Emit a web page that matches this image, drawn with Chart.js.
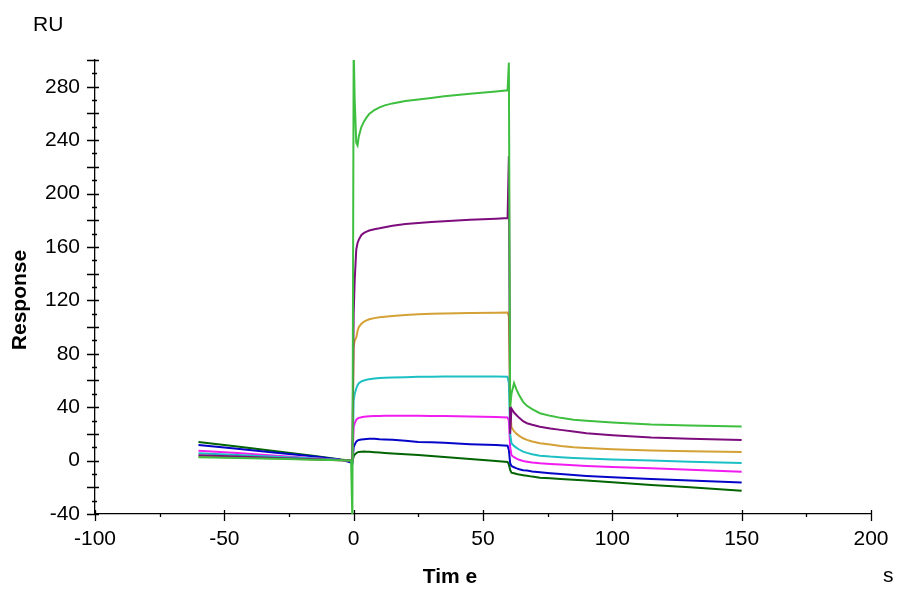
<!DOCTYPE html>
<html>
<head>
<meta charset="utf-8">
<script src="https://cdn.jsdelivr.net/npm/chart.js@4/dist/chart.umd.min.js"></script>
<style>
  html, body { margin: 0; padding: 0; background: #fff; }
  #wrap { width: 900px; height: 600px; }
</style>
</head>
<body>
<div id="wrap"><canvas id="myChart" width="900" height="600"></canvas></div>
<script>
// time points (s), shared by every curve
const times = [
  -60, -45, -30, -15, -5, -1, -0.5,
  0, 0.4, 1, 1.5, 2, 3, 4, 5, 6, 8, 10, 12, 15, 20, 25, 30, 35, 45, 55, 59.5,
  60, 60.5, 61, 62, 63, 64, 65.5, 67, 69, 72, 76, 80, 85, 90, 100, 115, 130, 150
];

// response (RU), one array per concentration
const lightGreen = [
  2.5, 1.9, 1.3, 0.6, 0.2, 0, -45,
  310, 270, 238, 236, 243, 250, 254, 257, 259.5, 262.5, 264.5, 266, 267.5, 269.3, 270.5, 271.6, 272.8, 274.8, 276.5, 277.3,
  298, 40, 50, 58, 53, 49, 44, 41, 38.5, 35.5, 33.5, 32, 30.5, 29.8, 28.5, 27, 26.3, 25.5
];
const purple = [
  4, 3, 2, 1, 0.3, 0, 0,
  110, 135, 158, 163, 165.5, 169, 170.5, 171.5, 172.3, 173.3, 174, 174.8, 175.8, 177.2, 178, 178.7, 179.3, 180.3, 181.2, 181.6,
  228, 20, 39, 36, 34, 32, 29.5, 28, 26.8, 25.4, 24, 23, 21.7, 20.5, 19, 17.3, 16.3, 15.5
];
const orange = [
  3, 2.3, 1.5, 0.8, 0.2, 0, 0,
  85, 90, 92, 97, 100, 102.5, 104, 105, 105.8, 106.7, 107.3, 107.8, 108.3, 109, 109.5, 109.9, 110.2, 110.5, 110.8, 110.9,
  108, 40, 25, 22, 20, 18.5, 16.7, 15.5, 14.3, 13, 12, 11, 10, 9.5, 8.5, 7.5, 7, 6.5
];
const cyan = [
  5.5, 4.2, 2.9, 1.5, 0.4, 0, -0.5,
  45, 50, 54, 56.5, 58, 59.3, 60, 60.6, 61, 61.5, 61.9, 62.1, 62.3, 62.5, 62.7, 62.8, 62.9, 63, 63, 62.8,
  58, 20, 13, 11, 9.5, 8.3, 6.7, 5.8, 4.8, 3.7, 3, 2.5, 2, 1.5, 0.8, 0, -0.8, -1.8
];
const magenta = [
  7.4, 5.6, 3.7, 1.8, 0.5, 0, -0.5,
  25, 28, 30.5, 31.5, 32, 32.5, 32.8, 33, 33.2, 33.3, 33.4, 33.5, 33.5, 33.5, 33.5, 33.4, 33.3, 33, 32.6, 32.3,
  30, 10, 4, 2.5, 1.5, 0.6, -0.3, -0.8, -1.4, -2, -2.5, -3, -3.5, -4, -4.8, -5.7, -6.8, -8.3
];
const blue = [
  11.7, 8.8, 5.9, 3, 0.7, -1.5, -2,
  10, 12, 14.2, 15, 15.5, 15.8, 16, 16.2, 16.3, 16.3, 16, 15.8, 15.6, 14.8, 14, 13.7, 13.3, 12.3, 11.6, 11.1,
  8, -2, -4, -5, -5.8, -6.5, -7.2, -7.5, -8.1, -8.7, -9.4, -10, -10.8, -11.5, -12.5, -13.8, -15, -16.5
];
const darkGreen = [
  14, 10.5, 7, 3.5, 0.8, 0, -1,
  3, 4.5, 5.5, 6.2, 6.5, 6.7, 6.8, 6.7, 6.6, 6.3, 6, 5.7, 5.3, 4.8, 4.2, 3.4, 2.7, 1.2, -0.3, -1,
  -3, -7, -9, -9.5, -10, -10.5, -10.9, -11.3, -12, -12.8, -13.3, -13.8, -14.4, -15, -16.2, -18.3, -20, -22.5
];

const yLabelEvery = 40;

const curves = [
  { data: lightGreen, color: "#3fbf3f" },
  { data: purple,     color: "#7d0c7d" },
  { data: orange,     color: "#d3a135" },
  { data: cyan,       color: "#1cc0c4" },
  { data: magenta,    color: "#f01cf0" },
  { data: blue,       color: "#0505c8" },
  { data: darkGreen,  color: "#036403" },
];

Chart.defaults.font.family = "'Liberation Sans', Arial, sans-serif";
Chart.defaults.font.size = 21;
Chart.defaults.color = "#000";

// extra ticks and the loose axis texts
const decor = {
  id: "decor",
  afterDraw(chart) {
    const ctx = chart.ctx;
    const xs = chart.scales.x, ys = chart.scales.y;
    const ax = ys.right, ay = xs.top;
    ctx.save();
    ctx.strokeStyle = "#000";
    ctx.lineWidth = 1.3;
    ctx.beginPath();
    for (let v = -40; v <= 300; v += 10) {
      const p = Math.round(ys.getPixelForValue(v)) + 0.5;
      if (v % 20 === 0) { ctx.moveTo(ax - 8, p); ctx.lineTo(ax + 4, p); }
      else { ctx.moveTo(ax - 3, p); ctx.lineTo(ax + 2, p); }
    }
    for (let v = -100; v <= 200; v += 25) {
      const p = Math.round(xs.getPixelForValue(v)) + 0.5;
      if (v % 50 === 0) { ctx.moveTo(p, ay - 4); ctx.lineTo(p, ay + 7); }
      else { ctx.moveTo(p, ay - 1); ctx.lineTo(p, ay + 3); }
    }
    ctx.stroke();

    ctx.fillStyle = "#000";
    ctx.textBaseline = "alphabetic";
    ctx.font = "21px 'Liberation Sans', Arial, sans-serif";
    ctx.textAlign = "left";
    ctx.fillText("RU", 33, 31);
    ctx.fillText("s", 883, 582);
    ctx.font = "bold 21px 'Liberation Sans', Arial, sans-serif";
    ctx.textAlign = "center";
    ctx.fillText("Tim e", 450, 583);
    ctx.translate(26, 300);
    ctx.rotate(-Math.PI / 2);
    ctx.fillText("Response", 0, 0);
    ctx.restore();
  }
};

const ctx = document.getElementById("myChart");

new Chart(ctx, {
  type: "line",
  data: {
    datasets: curves.map(c => ({
      data: times.map((t, i) => ({ x: t, y: c.data[i] })),
      borderColor: c.color,
      borderWidth: 2,
      pointRadius: 0,
      tension: 0,
      fill: false,
    })),
  },
  options: {
    responsive: false,
    animation: false,
    devicePixelRatio: 1,
    layout: { padding: { left: 0, top: 60, right: 29, bottom: 0 } },
    plugins: { legend: { display: false }, tooltip: { enabled: false } },
    scales: {
      x: {
        type: "linear",
        min: -100,
        max: 200,
        ticks: { stepSize: 50, padding: 6, maxRotation: 0 },
        grid: { drawOnChartArea: false, tickLength: 7, tickColor: "transparent" },
        border: { display: true, color: "#000", width: 1.3 },
        afterFit(scale) { scale.height = 86; },
      },
      y: {
        min: -40,
        max: 300,
        ticks: {
          stepSize: yLabelEvery,
          padding: 8,
          callback: v => (v % yLabelEvery === 0 && v < 300 ? v : ""),
        },
        grid: { drawOnChartArea: false, tickLength: 7, tickColor: "transparent" },
        border: { display: true, color: "#000", width: 1.3 },
        afterFit(scale) { scale.width = 95; },
      },
    },
  },
  plugins: [decor],
});
</script>
</body>
</html>
